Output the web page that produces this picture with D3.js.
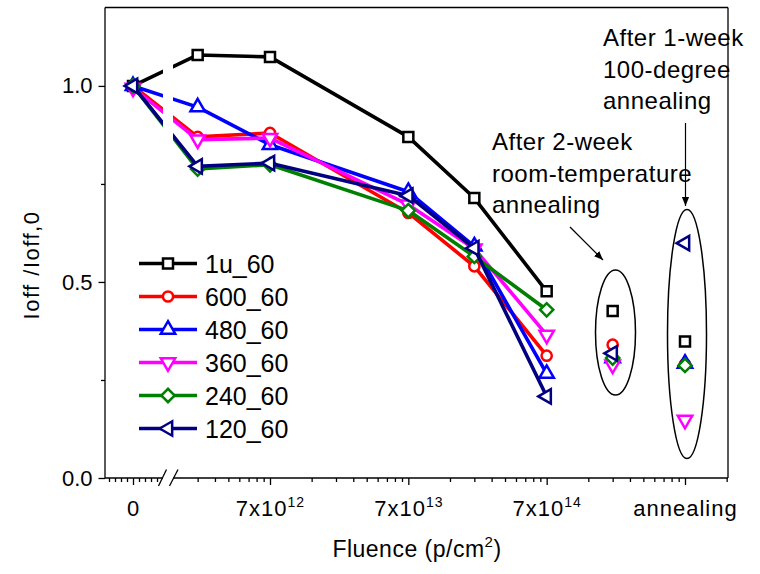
<!DOCTYPE html>
<html>
<head>
<meta charset="utf-8">
<script src="https://cdn.jsdelivr.net/npm/d3@7"></script>
<style>
body { margin: 0; background: white; }
svg text { font-family: Arial, "Liberation Sans", sans-serif; fill: black; }
</style>
</head>
<body>
<div id="chart"></div>
<script>
// series names and colours
var seriesNames = ["1u_60", "600_60", "480_60", "360_60", "240_60", "120_60"];
var seriesColors = ["black", "#ff0000", "#0000ff", "#ff00ff", "#008000", "#000080"];
var seriesSymbols = ["square", "circle", "triUp", "triDown", "diamond", "triLeft"];

// fluence (p/cm2), 0 sits left of the axis break
var fluence = [0, 2.1e12, 7e12, 7e13, 2.1e14, 7e14];

// Ioff / Ioff,0 per series
var ratio1u = [1.0, 1.079, 1.074, 0.870, 0.714, 0.476];
var ratio600 = [1.0, 0.870, 0.880, 0.676, 0.540, 0.312];
var ratio480 = [1.0, 0.946, 0.850, 0.730, 0.591, 0.266];
var ratio360 = [0.995, 0.863, 0.867, 0.697, 0.585, 0.365];
var ratio240 = [1.0, 0.788, 0.799, 0.682, 0.565, 0.429];
var ratio120 = [1.0, 0.795, 0.803, 0.720, 0.586, 0.208];

// after annealing (unconnected points)
var roomTempX = 2.1e15;
var roomTemp = [0.426, 0.340, 0.306, 0.289, 0.306, 0.318];
var annealX = 7e15;
var anneal100 = [0.348, 0.290, 0.292, 0.148, 0.287, 0.599];

// ticks
var xTickValues = [7e12, 7e13, 7e14, 7e15];
var xTickBase = ["7x10", "7x10", "7x10", "annealing"];
var xTickExp = ["12", "13", "14", ""];
var yTickValues = [0, 0.5, 1.0];
var yMinorValues = [0.25, 0.75];

var allRatios = [ratio1u, ratio600, ratio480, ratio360, ratio240, ratio120];

var W = 760, H = 574;
var plotL = 105, plotR = 728, plotT = 7.5, plotB = 478;
var breakL = 163, breakR = 173;

var svg = d3.select("#chart").append("svg")
    .attr("width", W).attr("height", H);

var yScale = d3.scaleLinear().domain([0, 1.2]).range([plotB, plotT]);
var xLog = d3.scaleLog().domain([7e12, 7e15]).range([270, 685]);
var xLin = d3.scaleLinear().domain([-4, 4]).range([109, 157]);

function xPos(v){
    if(v == 0) return xLin(0);
    return xLog(v);
}

function symbolPath(kind){
    var s;
    if(kind == "square") s = d3.symbol(d3.symbolSquare, 100);
    else if(kind == "circle") s = d3.symbol(d3.symbolCircle, 82);
    else if(kind == "diamond") s = d3.symbol(d3.symbolSquare, 88);
    else s = d3.symbol(d3.symbolTriangle, 90);
    return s();
}
function symbolRotate(kind){
    if(kind == "diamond") return 45;
    if(kind == "triDown") return 180;
    if(kind == "triLeft") return -90;
    return 0;
}

function drawMarker(g, kind, color, x, y){
    g.append("path")
        .attr("d", symbolPath(kind))
        .attr("transform", "translate(" + x + "," + y + ") rotate(" + symbolRotate(kind) + ")")
        .attr("fill", "white")
        .attr("stroke", color)
        .attr("stroke-width", 2.5);
}

//DATA
var line = d3.line()
    .x(function(d){ return xPos(d.x); })
    .y(function(d){ return yScale(d.y); });

for(var s = 0; s < seriesNames.length; s++){
    var pts = fluence.map(function(f, i){ return {x: f, y: allRatios[s][i]}; });
    var g = svg.append("g");
    g.append("path")
        .datum(pts)
        .attr("d", line)
        .attr("fill", "none")
        .attr("stroke", seriesColors[s])
        .attr("stroke-width", 3.6)
        .attr("stroke-linejoin", "round");
    for(var i = 0; i < pts.length; i++){
        drawMarker(g, seriesSymbols[s], seriesColors[s], xPos(pts[i].x), yScale(pts[i].y));
    }
}

// gap for the axis break
svg.append("rect")
    .attr("x", breakL).attr("y", plotT + 1)
    .attr("width", breakR - breakL).attr("height", plotB - plotT - 2)
    .attr("fill", "white");

// annealing points
for(var s = 0; s < seriesNames.length; s++){
    drawMarker(svg, seriesSymbols[s], seriesColors[s], xLog(roomTempX), yScale(roomTemp[s]));
}
for(var s = 0; s < seriesNames.length; s++){
    drawMarker(svg, seriesSymbols[s], seriesColors[s], xLog(annealX), yScale(anneal100[s]));
}

//FRAME
var frame = svg.append("g").attr("stroke", "black").attr("stroke-width", 1.3).attr("fill", "none");
frame.append("line").attr("x1", plotL).attr("y1", plotT).attr("x2", plotR).attr("y2", plotT);
frame.append("line").attr("x1", plotR).attr("y1", plotT).attr("x2", plotR).attr("y2", plotB);
frame.append("line").attr("x1", plotL).attr("y1", plotT).attr("x2", plotL).attr("y2", plotB);
frame.append("line").attr("x1", plotL).attr("y1", plotB).attr("x2", breakL).attr("y2", plotB);
frame.append("line").attr("x1", breakR).attr("y1", plotB).attr("x2", plotR).attr("y2", plotB);
// break marks
frame.append("line").attr("x1", 158.5).attr("y1", 486).attr("x2", 166.5).attr("y2", 469.5);
frame.append("line").attr("x1", 169.5).attr("y1", 486).attr("x2", 178).attr("y2", 469.5);

//AXES
function styleAxis(g){
    g.select(".domain").remove();
    g.selectAll(".tick line").attr("stroke", "black").attr("stroke-width", 1.3);
}

// log segment minor ticks
var minorLog = [];
[7e11, 7e12, 7e13, 7e14].forEach(function(b){
    for(var k = 2; k <= 9; k++){
        var v = b * k;
        if(xLog(v) > breakR + 2) minorLog.push(v);
    }
});
minorLog.push(1.4e16);

svg.append("g").attr("transform", "translate(0," + plotB + ")")
    .call(d3.axisBottom(xLog).tickValues(minorLog).tickSize(4).tickFormat(""))
    .call(styleAxis);

svg.append("g").attr("transform", "translate(0," + plotB + ")")
    .call(d3.axisBottom(xLin).tickValues([-4, -3, -2, -1, 1, 2, 3, 4]).tickSize(4).tickFormat(""))
    .call(styleAxis);

svg.append("g").attr("transform", "translate(0," + plotB + ")")
    .call(d3.axisBottom(xLin).tickValues([0]).tickSize(7).tickPadding(15).tickFormat(d3.format("d")))
    .call(styleAxis);

var xMajor = svg.append("g").attr("transform", "translate(0," + plotB + ")")
    .call(d3.axisBottom(xLog).tickValues(xTickValues).tickSize(7).tickPadding(15).tickFormat(""))
    .call(styleAxis);

xMajor.selectAll(".tick text").each(function(d, i){
    var t = d3.select(this);
    t.append("tspan").text(xTickBase[i]);
    if(xTickExp[i] != "")
        t.append("tspan").attr("dy", -9).attr("font-size", 14).text(xTickExp[i]);
});

svg.selectAll(".tick text")
    .attr("font-size", 22)
    .attr("letter-spacing", 1)
    .attr("fill", "black")
    .attr("font-family", "Arial, 'Liberation Sans', sans-serif");

var yMajor = svg.append("g").attr("transform", "translate(" + plotL + ",0)")
    .call(d3.axisLeft(yScale).tickValues(yTickValues).tickSize(6.5).tickPadding(6).tickFormat(d3.format(".1f")))
    .call(styleAxis);
yMajor.selectAll(".tick text")
    .attr("font-size", 22)
    .attr("letter-spacing", 0)
    .attr("fill", "black")
    .attr("font-family", "Arial, 'Liberation Sans', sans-serif");

svg.append("g").attr("transform", "translate(" + plotL + ",0)")
    .call(d3.axisLeft(yScale).tickValues(yMinorValues).tickSize(4).tickFormat(""))
    .call(styleAxis);

//AXIS TITLES
var xt = svg.append("text")
    .attr("x", 417).attr("y", 557)
    .attr("text-anchor", "middle")
    .attr("font-size", 23)
    .attr("letter-spacing", 0.5);
xt.append("tspan").text("Fluence (p/cm");
xt.append("tspan").attr("dy", -10).attr("font-size", 15).text("2");
xt.append("tspan").attr("dy", 10).text(")");

svg.append("text")
    .attr("transform", "translate(39,265) rotate(-90)")
    .attr("text-anchor", "middle")
    .attr("font-size", 22)
    .attr("letter-spacing", 1.5)
    .text("Ioff /Ioff,0");

//LEGEND
var legend = svg.append("g");
for(var s = 0; s < seriesNames.length; s++){
    var ly = 263.5 + s * 33;
    legend.append("line")
        .attr("x1", 139).attr("x2", 197)
        .attr("y1", ly).attr("y2", ly)
        .attr("stroke", seriesColors[s])
        .attr("stroke-width", 3.6);
    drawMarker(legend, seriesSymbols[s], seriesColors[s], 168, ly);
    legend.append("text")
        .attr("x", 205).attr("y", ly + 9)
        .attr("font-size", 25)
        .text(seriesNames[s]);
}

//ANNOTATIONS
var defs = svg.append("defs");
defs.append("marker")
    .attr("id", "arrow")
    .attr("viewBox", "0 0 10 10")
    .attr("refX", 10).attr("refY", 5)
    .attr("markerWidth", 9).attr("markerHeight", 9)
    .attr("markerUnits", "userSpaceOnUse")
    .attr("orient", "auto")
    .append("path")
    .attr("d", "M0,1 L10,5 L0,9 Z")
    .attr("fill", "black");

svg.append("line")
    .attr("x1", 570).attr("y1", 227).attr("x2", 603).attr("y2", 260)
    .attr("stroke", "black").attr("stroke-width", 1.2)
    .attr("marker-end", "url(#arrow)");
svg.append("line")
    .attr("x1", 685.5).attr("y1", 123).attr("x2", 685.5).attr("y2", 206)
    .attr("stroke", "black").attr("stroke-width", 1.2)
    .attr("marker-end", "url(#arrow)");

svg.append("ellipse")
    .attr("cx", 615.5).attr("cy", 332.5).attr("rx", 20).attr("ry", 62.5)
    .attr("fill", "none").attr("stroke", "black").attr("stroke-width", 1.5);
svg.append("ellipse")
    .attr("cx", 687).attr("cy", 334).attr("rx", 19.5).attr("ry", 124.5)
    .attr("fill", "none").attr("stroke", "black").attr("stroke-width", 1.5);

var note1 = ["After 2-week", "room-temperature", "annealing"];
var note2 = ["After 1-week", "100-degree", "annealing"];
note1.forEach(function(t, i){
    svg.append("text").attr("x", 492).attr("y", 150 + i * 31.5)
        .attr("font-size", 24).attr("letter-spacing", 0.5).text(t);
});
note2.forEach(function(t, i){
    svg.append("text").attr("x", 603).attr("y", 46 + i * 31.5)
        .attr("font-size", 24).attr("letter-spacing", 0.5).text(t);
});
</script>
</body>
</html>
